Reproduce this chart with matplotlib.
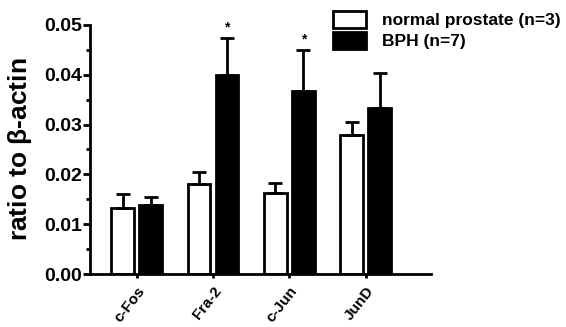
import matplotlib
matplotlib.use("Agg")
import matplotlib.pyplot as plt
import matplotlib.transforms as mtransforms
import numpy as np

genes = ["c-Fos", "Fra-2", "c-Jun", "JunD"]
normal = [0.0132, 0.0181, 0.0163, 0.0279]
normal_err = [0.0028, 0.0024, 0.0020, 0.0027]
bph = [0.0139, 0.0400, 0.0368, 0.0333]
bph_err = [0.0016, 0.0073, 0.0082, 0.0071]
signif = [False, True, True, False]

plt.rcParams['font.family'] = ['Liberation Sans', 'DejaVu Sans']
plt.rcParams['font.weight'] = 'bold'

fig = plt.figure(figsize=(5.66, 3.27), dpi=100)
ax = fig.add_axes([0.159, 0.162, 0.602, 0.762])

x = np.arange(len(genes))
w = 0.30
off = 0.183
ekw = dict(elinewidth=2, capthick=2, capsize=5, ecolor='black')
ax.bar(x - off, normal, w, color='white', edgecolor='black', linewidth=2,
       yerr=[np.zeros(len(x)), normal_err], error_kw=ekw, label='normal prostate (n=3)')
ax.bar(x + off, bph, w, color='black', edgecolor='black', linewidth=2,
       yerr=[np.zeros(len(x)), bph_err], error_kw=ekw, label='BPH (n=7)')

for i, s in enumerate(signif):
    if s:
        ax.text(x[i] + off, bph[i] + bph_err[i] + 0.0007, '*', ha='center', va='bottom',
                fontsize=10, fontweight='bold')

ax.set_xlim(-0.61, 3.85)
ax.set_ylim(0, 0.05)
ax.set_yticks(np.arange(0, 0.051, 0.01))
ax.set_yticks(np.arange(0.005, 0.05, 0.01), minor=True)
ax.set_yticklabels(['%.2f' % v for v in np.arange(0, 0.051, 0.01)], fontsize=14, fontweight='bold')
ax.set_xticks(x)
ax.set_xticklabels(genes, rotation=52, ha='right', rotation_mode='anchor', fontsize=11, fontweight='bold')
shift = mtransforms.ScaledTranslation(6 / 100, 0, fig.dpi_scale_trans)
for lab in ax.get_xticklabels():
    lab.set_transform(lab.get_transform() + shift)
ax.tick_params(axis='x', length=3, width=2, pad=4)
ax.tick_params(axis='y', which='major', length=5, width=2, pad=1)
ax.tick_params(axis='y', which='minor', length=3, width=2)
for side in ['top', 'right']:
    ax.spines[side].set_visible(False)
for side in ['left', 'bottom']:
    ax.spines[side].set_linewidth(2)
ax.set_ylabel(r'ratio to $\mathregular{\beta}$-actin', fontsize=19, fontweight='bold', labelpad=7)

leg = ax.legend(loc='upper left', bbox_to_anchor=(0.666, 1.12), frameon=False,
                handlelength=1.9, handleheight=1.15, handletextpad=0.92, labelspacing=0.2,
                prop={'weight': 'bold', 'size': 12.5})

fig.savefig('out.png', dpi=100)
